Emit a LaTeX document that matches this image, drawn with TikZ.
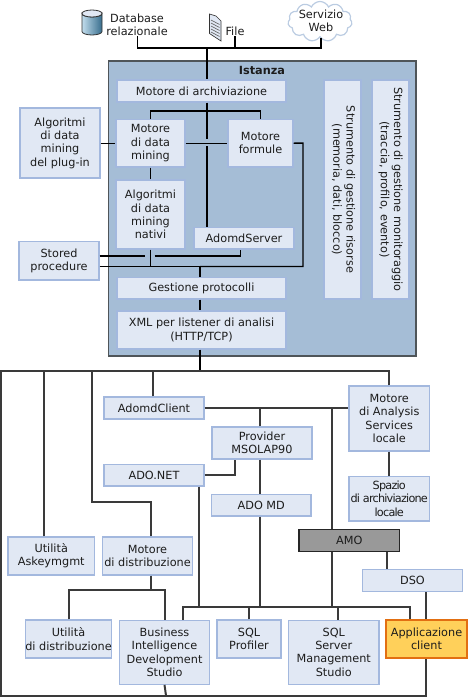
\documentclass[tikz,border=0pt]{standalone}
\usepackage{fontspec}
\setmainfont{DejaVu Sans}
\usepackage{tikz}
\usetikzlibrary{arrows.meta, positioning, shapes.geometric, shapes.symbols, calc}
\definecolor{boxfill}{HTML}{E1E8F4}
\definecolor{boxline}{HTML}{A3B8DE}
\definecolor{instfill}{HTML}{A5BDD6}
\definecolor{instline}{HTML}{4F5559}
\definecolor{amofill}{HTML}{999999}
\definecolor{appfill}{HTML}{FFD05A}
\definecolor{appline}{HTML}{E26F12}
\definecolor{linegray}{HTML}{3A3A3A}
\definecolor{inktext}{HTML}{1C1C1C}
\definecolor{cloudline}{HTML}{BBCCE2}
\definecolor{dbblue}{HTML}{4F9CC9}
\begin{document}
\begin{tikzpicture}[
      x=0.75pt, y=-0.75pt,
      sz/.style 2 args={minimum width=#1*0.75pt, minimum height=#2*0.75pt},
      box/.style={rectangle, draw=boxline, fill=boxfill, line width=0.9pt, inner sep=0pt,
                  align=center, text=inktext, font=\fontsize{8.45}{9.95}\selectfont},
      lab/.style={inner sep=0pt, align=center, text=inktext, font=\fontsize{8.45}{9.95}\selectfont},
      up/.style={line width=1.1pt, black},
      low/.style={line width=1.5pt, linegray}
    ]
      \useasboundingbox (0,0) rectangle (468,697);
      % instance frame
      \node[rectangle, draw=instline, fill=instfill, line width=1.1pt, sz={307.5}{295}] (inst) at (262.25,208.5) {};
      \node[lab, font=\fontsize{8.45}{9.95}\bfseries\selectfont] (insttitle) at (262,70) {Istanza};
      % sources
      \node[lab] (dblab) at (137,24.5) {Database\\relazionale};
      \node[lab] (filelab) at (235,31) {File};
      \node[cloud, cloud puffs=11, cloud puff arc=130, aspect=1.6, draw=cloudline, fill=white, line width=0.9pt,
            inner sep=0pt, sz={64}{40}] (web) at (320,21.5) {};
      \node[lab] (weblab) at (321,21) {Servizio\\Web};
      \shade[left color=dbblue!35!white, right color=dbblue!70!black, draw=black!80, line width=0.6pt]
        (82,13.5) -- (82,31.5) arc[start angle=180, end angle=0, x radius=10, y radius=3.5]
        -- (102,13.5) arc[start angle=0, end angle=180, x radius=10, y radius=3.5] -- cycle;
      \draw[fill=boxfill, draw=black!80, line width=0.6pt] (92,13.5) ellipse[x radius=10, y radius=3.5];
      \draw[line width=0.5pt, black!80, fill=boxfill] (209.5,14) -- (216,16) -- (221,21) -- (221,41) -- (209.5,33.5) -- cycle;
      \foreach \yy in {21,24,27,30,33}
        \draw[line width=0.5pt, black!60] (211,\yy-1) -- (219.5,\yy+3.5);
      % instance boxes
      \node[box, sz={169}{22}] (store) at (201.5,91) {Motore di archiviazione};
      \node[box, sz={80}{70}] (plugin) at (60,143) {Algoritmi\\di data\\mining\\del plug-in};
      \node[box, sz={69}{47.5}] (mining) at (150.5,143.25) {Motore\\di data\\mining};
      \node[box, sz={65}{47.5}] (formula) at (260.5,143.25) {Motore\\formule};
      \node[box, sz={69}{69}] (native) at (150.5,214.5) {Algoritmi\\di data\\mining\\nativi};
      \node[box, sz={100}{21.5}] (server) at (244,238.25) {AdomdServer};
      \node[box, sz={80}{38.5}] (stored) at (59,260.75) {Stored\\procedure};
      \node[box, sz={169}{21.5}] (proto) at (201.5,288.25) {Gestione protocolli};
      \node[box, sz={169}{38}] (xml) at (201.5,330) {XML per listener di analisi\\(HTTP/TCP)};
      \node[box, sz={37}{219}] (resmgr) at (342.5,189.5) {};
      \node[lab, rotate=-90] (reslab) at (343.5,189.5) {Strumento di gestione risorse\\(memoria, dati, blocco)};
      \node[box, sz={37}{219}] (monmgr) at (390.5,189.5) {};
      \node[lab, rotate=-90] (monlab) at (390.5,189.5) {Strumento di gestione monitoraggio\\(traccia, profilo, evento)};
      % client boxes
      \node[box, sz={100}{22}] (adomdc) at (154,408) {AdomdClient};
      \node[box, sz={80.5}{65}] (local) at (389.25,418.5) {Motore\\di Analysis\\Services\\locale};
      \node[box, sz={100}{32}] (msolap) at (262,443) {Provider\\MSOLAP90};
      \node[box, sz={100}{21.5}] (adonet) at (154,475.25) {ADO.NET};
      \node[box, sz={99.5}{21.5}] (adomd) at (261.25,505.25) {ADO MD};
      \node[box, sz={80.5}{44.5}, font=\fontsize{8.45}{9.95}\selectfont\addfontfeature{LetterSpace=-7}] (space) at (389.25,498.75) {Spazio\\di archiviazione\\locale};
      \node[box, draw=black!85, fill=amofill, sz={100.5}{22}] (amo) at (349.25,540.5) {AMO};
      \node[box, sz={100}{22}] (dso) at (412.5,580.5) {DSO};
      \node[box, sz={86.5}{38}] (askey) at (51.25,556) {Utilità\\Askeymgmt};
      \node[box, sz={90}{38}] (deploy) at (147.5,556) {Motore\\di distribuzione};
      \node[box, sz={86}{38}] (deputil) at (68.5,639) {Utilità\\di distribuzione};
      \node[box, sz={90}{64}] (bids) at (164.5,652.25) {Business\\Intelligence\\Development\\Studio};
      \node[box, sz={64}{38}] (profiler) at (249,639) {SQL\\Profiler};
      \node[box, sz={90.5}{64}] (ssms) at (333.75,652.25) {SQL\\Server\\Management\\Studio};
      \node[box, draw=appline, fill=appfill, sz={81}{38}] (app) at (426.5,639) {Applicazione\\client};
      % junctions
      \coordinate (srcbus) at (207,48);
      \coordinate (minebus) at (207,111);
      \coordinate (protobus) at (200,266.5);
      \coordinate (sidebus) at (303,143);
      \coordinate (gapup) at (207,139);
      \coordinate (gapdown) at (207,146);
      \coordinate (storedgap) at (144.5,256);
      \coordinate (servgap) at (154.5,256);
      \coordinate (topbus) at (200,371);
      \coordinate (botbus) at (166,695.5);
      \coordinate (clibus) at (331.7,408);
      \coordinate (appbus) at (331.7,607);
      \coordinate (deploybus) at (150.5,590);
      \coordinate (keyturn) at (91.5,501.7);
      % sources to engine
      \draw[up] (dblab.south -| 137.5,0) |- (srcbus);
      \draw[up] (filelab.south) -- (filelab.south |- srcbus);
      \draw[up] (web.south -| 321,0) |- (srcbus);
      \draw[up] (srcbus) -- (srcbus |- store.north);
      % inside instance
      \draw[up] (store.south -| minebus) -- (gapup);
      \draw[up] (gapdown) -- (gapdown |- server.north);
      \draw[up] (mining.north) |- (minebus) -| (formula.north);
      \draw[up] (mining.east) -- (formula.west);
      \draw[up] (plugin.east |- mining.east) -- (mining.west);
      \draw[up] (mining.south) -- (native.north);
      \draw[up] (formula.east) -- (sidebus) |- (protobus);
      \draw[up] (stored.east |- protobus) -- (protobus);
      \draw[up] (native.south) -- (native.south |- protobus);
      \draw[up] (stored.east |- storedgap) -- (storedgap);
      \draw[up] (servgap) -| (240.5,0 |- server.south);
      \draw[up] (protobus) -- (protobus |- proto.north);
      \draw[up] (proto.south -| protobus) -- (xml.north -| protobus);
      \draw[up] (xml.south -| protobus) -- (topbus);
      % clients
      \draw[low] (local.north) |- (topbus) -| (1,0 |- botbus) -- (botbus);
      \draw[low] (botbus) -| (app.south -| 425.7,0);
      \draw[low] (adomdc.north -| 153,0) -- (153,0 |- topbus);
      \draw[low] (askey.north -| 43.5,0) -- (43.5,0 |- topbus);
      \draw[low] (deploy.north -| deploybus) |- (keyturn) -- (keyturn |- topbus);
      \draw[low] (adomdc.east) -- (local.west |- adomdc.east);
      \draw[low] (msolap.north -| 260,0) -- (260,0 |- adomdc.east);
      \draw[low] (msolap.south -| 260,0) -- (adomd.north -| 260,0);
      \draw[low] (adomd.south -| 260,0) -- (260,0 |- appbus);
      \draw[low] (adonet.east) -| (msolap.south -| 235,0);
      \draw[low] (adonet.south -| 199,0) -- (199,0 |- appbus);
      \draw[low] (bids.north -| 183,0) |- (appbus) -| (app.north -| 410,0);
      \draw[low] (profiler.north -| 248.7,0) -- (248.7,0 |- appbus);
      \draw[low] (ssms.north -| 338,0) -- (338,0 |- appbus);
      \draw[low] (amo.north -| clibus) -- (clibus);
      \draw[low] (amo.south -| appbus) -- (appbus);
      \draw[low] (amo.south -| 387,0) -- (dso.north -| 387,0);
      \draw[low] (dso.south -| 425.7,0) -- (app.north -| 425.7,0);
      \draw[low] (local.south) -- (space.north);
      \draw[low] (deploy.south -| deploybus) -- (deploybus);
      \draw[low] (deputil.north) |- (deploybus) -| (bids.north);
      \draw[low] (bids.south) -- (botbus);
    \end{tikzpicture}
\end{document}
